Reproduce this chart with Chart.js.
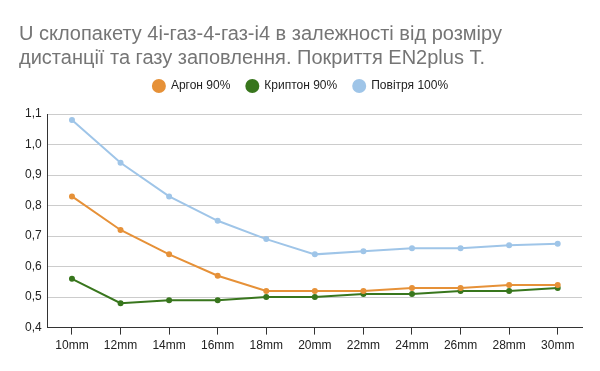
<!DOCTYPE html>
<html><head><meta charset="utf-8">
<script src="https://cdn.jsdelivr.net/npm/chart.js@4/dist/chart.umd.min.js"></script>
<style>html,body{margin:0;padding:0;background:#fff}#w{width:600px;height:371px}</style>
</head><body><div id="w"><canvas id="c"></canvas></div>
<script>
const categories = ['10mm','12mm','14mm','16mm','18mm','20mm','22mm','24mm','26mm','28mm','30mm'];
const argon = [0.83,0.72,0.64,0.57,0.52,0.52,0.52,0.53,0.53,0.54,0.54];
const krypton = [0.56,0.48,0.49,0.49,0.50,0.50,0.51,0.51,0.52,0.52,0.53];
const air = [1.08,0.94,0.83,0.75,0.69,0.64,0.65,0.66,0.66,0.67,0.675];
const seriesNames = ['Аргон 90%','Криптон 90%','Повітря 100%'];
const titleLines = ['U склопакету 4і-газ-4-газ-і4 в залежності від розміру','дистанції та газу заповлення. Покриття EN2plus T.'];
const yTicks = [0.4,0.5,0.6,0.7,0.8,0.9,1.0,1.1];

Chart.defaults.font.family = '"Liberation Sans", Arial, sans-serif';
function ds(label, data, color){
  return {label, data, borderColor: color, backgroundColor: color, borderWidth: 2,
    pointRadius: 2, pointHoverRadius: 2, tension: 0, pointStyle: 'circle'};
}
const legendGap = {
  id: 'legendGap',
  beforeInit(chart){
    const orig = chart.legend.fit;
    chart.legend.fit = function(){ orig.call(this); this.height += 12; };
  }
};
new Chart(document.getElementById('c'), {
  type: 'line',
  plugins: [legendGap],
  data: { labels: categories, datasets: [
    ds(seriesNames[0], argon, '#e69138'),
    ds(seriesNames[1], krypton, '#38761d'),
    ds(seriesNames[2], air, '#9fc5e8')
  ]},
  options: {
    responsive: true, maintainAspectRatio: false, animation: false,
    layout: { padding: { left: 19, right: 18, top: 22, bottom: 14 } },
    plugins: {
      title: { display: true, text: titleLines, align: 'start', color: '#757575',
        font: { size: 20, weight: 'normal' }, padding: { top: 0, bottom: -6 }, lineHeight: 1.3 },
      legend: { display: true, labels: { usePointStyle: true, pointStyle: 'circle', boxWidth: 12, boxHeight: 8.5,
        color: '#222', font: { size: 12 }, padding: 16 } },
      tooltip: { enabled: false }
    },
    scales: {
      x: { offset: true,
        grid: { display: true, drawOnChartArea: false, drawTicks: true, tickLength: 7, color: '#333' },
        border: { color: '#333', width: 1 },
        ticks: { color: '#222', font: { size: 12 }, padding: 4, maxRotation: 0, autoSkip: false } },
      y: { min: 0.4, max: 1.1,
        afterBuildTicks: (a) => { a.ticks = yTicks.map(v => ({ value: v })); },
        grid: { color: '#cccccc', drawTicks: false },
        border: { color: '#333', width: 1, display: true },
        ticks: { color: '#222', font: { size: 12 }, padding: 6,
          callback: (v) => v.toFixed(1).replace('.', ',') } }
    }
  }
});
</script></body></html>
